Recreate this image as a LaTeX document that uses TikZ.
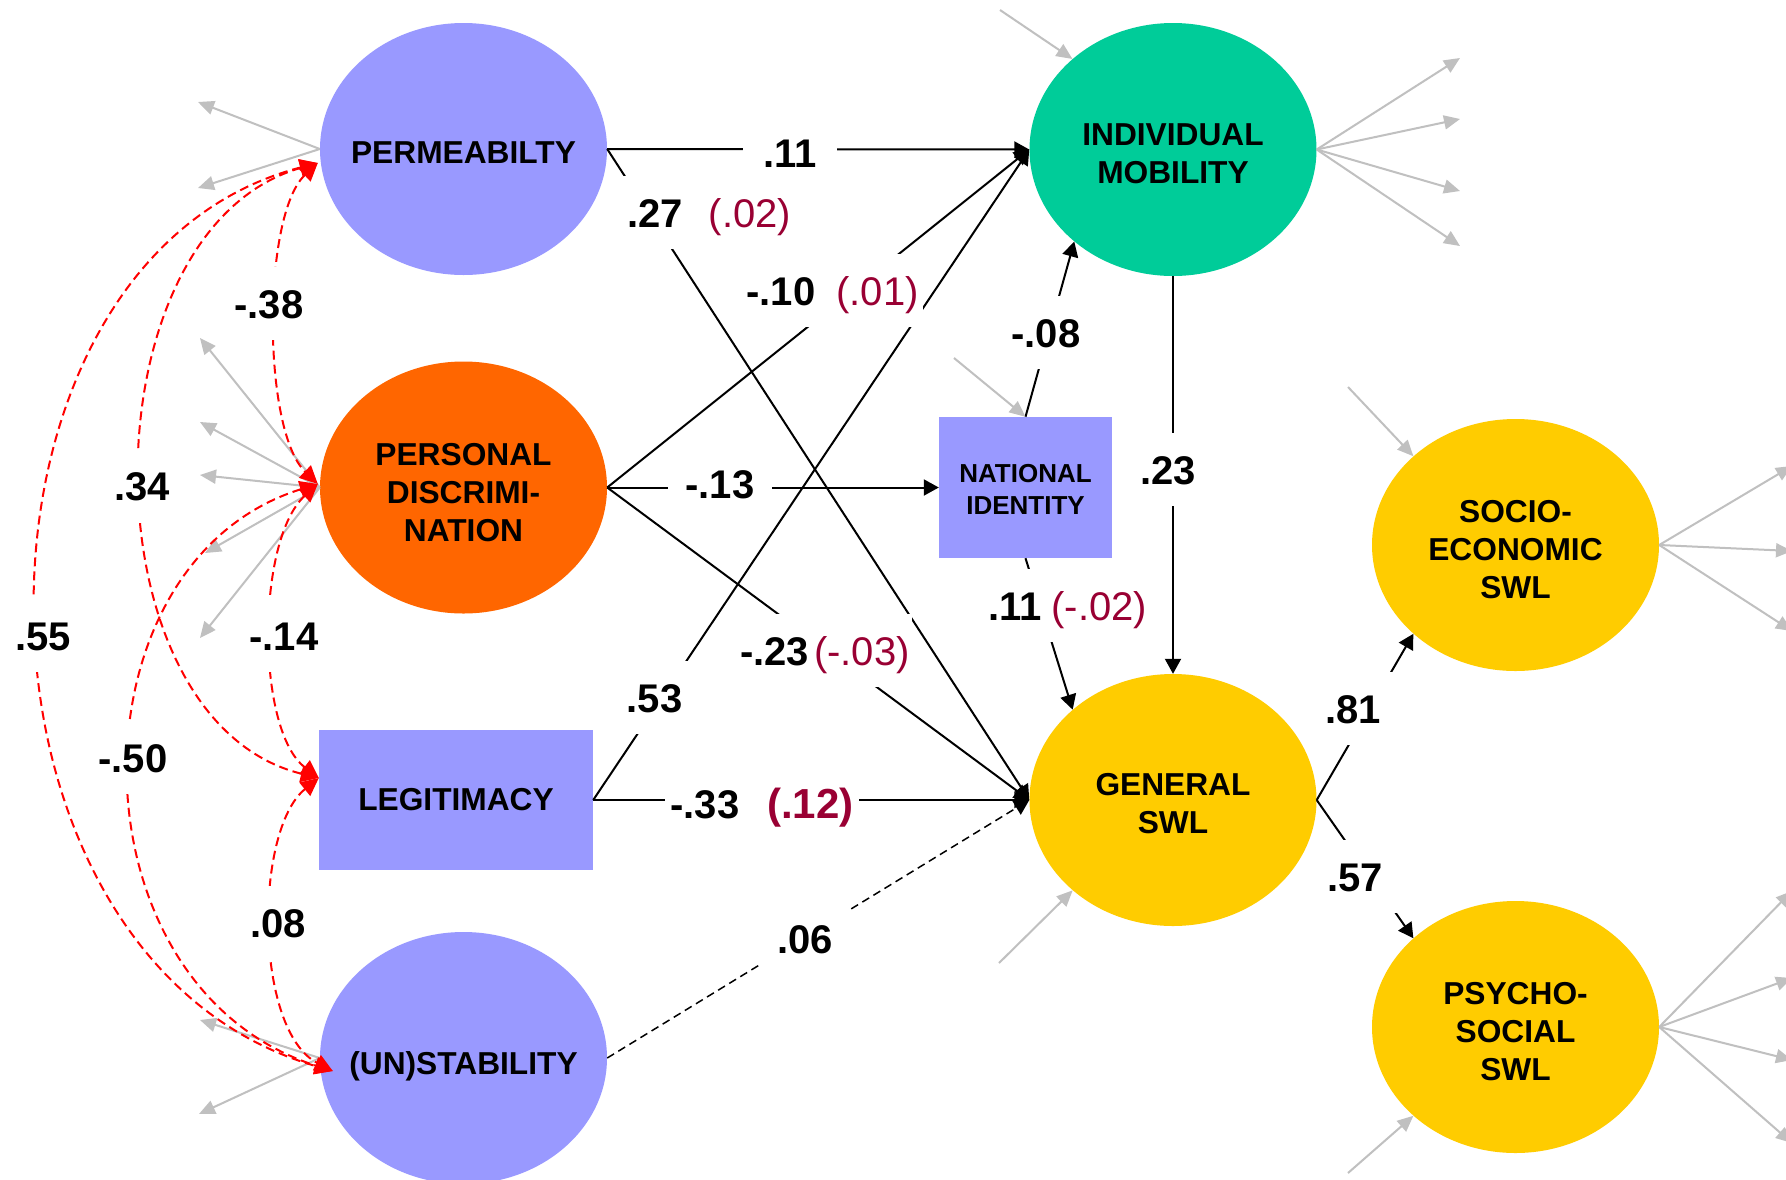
\documentclass[tikz,border=0pt]{standalone}
\usepackage{fontspec}
\setmainfont{Liberation Sans}
\usetikzlibrary{arrows.meta,calc,shapes.geometric}
\definecolor{lav}{HTML}{9999FF}
\definecolor{org}{HTML}{FF6600}
\definecolor{teal2}{HTML}{00CC99}
\definecolor{gold}{HTML}{FFCC00}
\definecolor{dkred}{HTML}{990033}
\definecolor{gry}{HTML}{C0C0C0}
\definecolor{rd}{HTML}{FF0000}
\begin{document}
\begin{tikzpicture}[x=1pt,y=-1pt,
  latent/.style={ellipse, minimum width=287pt, minimum height=252pt, inner sep=0pt, draw=none},
  obsbox/.style={rectangle, inner sep=0pt, draw=none},
  ntext/.style={font=\fontsize{31.7}{38}\selectfont\bfseries, align=center, inner sep=0pt},
  causal/.style={line width=2pt, -{Triangle[length=15pt,width=16pt]}},
  grayarr/.style={color=gry, line width=2pt, -{Triangle[length=16pt,width=14pt]}},
  cov/.style={color=rd, line width=2pt, dash pattern=on 9pt off 5pt, {Triangle[length=18pt,width=17pt]}-{Triangle[length=18pt,width=17pt]}},
  lab/.style={font=\fontsize{40}{48}\selectfont\bfseries, fill=white, anchor=base, text height=29pt, text depth=0pt, inner xsep=14pt, inner ysep=22pt},
]
\fill[white] (0,0) rectangle (1786,1179);
\clip (0,0) rectangle (1786,1179);

% ---------- nodes ----------
\node[latent, fill=lav] (PERM) at (463.5,149) {};
\node[latent, fill=org] (PERS) at (463.5,487.5) {};
\node[obsbox, fill=lav, minimum width=274pt, minimum height=140pt] (LEGIT) at (456,800) {};
\node[latent, fill=lav] (UNST) at (463.5,1058) {};
\node[latent, fill=teal2, minimum height=253pt] (INDM) at (1173,149.5) {};
\node[obsbox, fill=lav, minimum width=173pt, minimum height=141pt] (NATID) at (1025.5,487.5) {};
\node[latent, fill=gold] (GSWL) at (1173,800) {};
\node[latent, fill=gold] (SOCIO) at (1515.5,545) {};
\node[latent, fill=gold] (PSYCH) at (1515.5,1027) {};

% ---------- structural paths ----------
\draw[causal] (PERM.east) -- (INDM.west);
\draw[causal] (PERM.east) -- (GSWL.west);
\draw[causal] (PERS.east) -- (INDM.west);
\draw[causal] (PERS.east) -- (NATID.west);
\draw[causal] (PERS.east) -- (GSWL.west);
\draw[causal] (LEGIT.east) -- (INDM.west);
\draw[causal] (LEGIT.east) -- (GSWL.west);
\draw[causal, line width=1.5pt, dash pattern=on 8pt off 5pt] (UNST.east) -- (GSWL.west);
\draw[causal] (NATID.north) -- (INDM.223);
\draw[causal] (NATID.south) -- (GSWL.138);
\draw[causal] (INDM.south) -- (GSWL.north);
\draw[causal] (GSWL.east) -- (SOCIO.221);
\draw[causal] (GSWL.east) -- (PSYCH.139);

% ---------- gray indicator / error arrows ----------
\coordinate (gP1) at (198,102);
\coordinate (gP2) at (198,188);
\draw[grayarr] (PERM.west) -- (gP1);
\draw[grayarr] (PERM.west) -- (gP2);
\coordinate (gD1) at (200,338);
\coordinate (gD2) at (200,422);
\coordinate (gD3) at (200,475);
\coordinate (gD4) at (205,553);
\coordinate (gD5) at (200,638);
\foreach \t in {gD1,gD2,gD3,gD4,gD5} \draw[grayarr] (PERS.west) -- (\t);
\coordinate (gU1) at (200,1020);
\coordinate (gU2) at (199,1114);
\draw[grayarr] (UNST.west) -- (gU1);
\draw[grayarr] (UNST.west) -- (gU2);
\coordinate (gI1) at (1460,58);
\coordinate (gI2) at (1460,119);
\coordinate (gI3) at (1460,191);
\coordinate (gI4) at (1460,246);
\foreach \t in {gI1,gI2,gI3,gI4} \draw[grayarr] (INDM.east) -- (\t);
\coordinate (gS1) at (1792,466);
\coordinate (gS2) at (1792,551);
\coordinate (gS3) at (1792,631);
\foreach \t in {gS1,gS2,gS3} \draw[grayarr] (SOCIO.east) -- (\t);
\coordinate (gY1) at (1792,891);
\coordinate (gY2) at (1792,978);
\coordinate (gY3) at (1792,1060);
\coordinate (gY4) at (1792,1143);
\foreach \t in {gY1,gY2,gY3,gY4} \draw[grayarr] (PSYCH.east) -- (\t);
% incoming errors
\coordinate (eI) at (1000,10);
\draw[grayarr] (eI) -- (INDM.138);
\coordinate (eN) at (954,358);
\draw[grayarr] (eN) -- (NATID.north);
\coordinate (eG) at (999,963);
\draw[grayarr] (eG) -- (GSWL.222);
\coordinate (eS) at (1348,387);
\draw[grayarr] (eS) -- (SOCIO.139);
\coordinate (eY) at (1348,1173);
\draw[grayarr] (eY) -- (PSYCH.221);

% ---------- covariances (red dashed) ----------
\coordinate (rP) at ($(PERM.west)+(-2,14)$);
\coordinate (rD) at ($(PERS.west)+(-2,-3.5)$);
\coordinate (rL) at ($(LEGIT.west)+(0,-22)$);
\coordinate (rU) at ($(UNST.west)+(13,13)$);
\draw[cov] (rP) .. controls (262,215) and (262,430) .. (rD);
\draw[cov] (rP) .. controls (83,230) and (83,720) .. (rL);
\draw[cov] (rP) .. controls (-58,260) and (-58,958) .. (rU);
\draw[cov] (rD) .. controls (256,540) and (256,730) .. (rL);
\draw[cov] (rD) .. controls (66,562) and (66,986) .. (rU);
\draw[cov] (rL) .. controls (254,830) and (254,1030) .. (rU);

% ---------- path labels ----------
\node[lab, inner xsep=20pt] (l1) at (790,167) {.11};
\node[lab] (l2) at (655,227) {.27};
\node[lab, inner xsep=4pt] (l2r) at (750,227) {\mdseries\color{dkred}(.02)};
\node[lab, inner xsep=4pt] (l3) at (832.5,305) {-.10\hspace{21pt}{\mdseries\color{dkred}(.01)}};
\node[lab, inner xsep=18pt] (l4) at (720,498) {-.13};
\node[lab, inner xsep=2pt] (l5) at (825,665) {-.23\hspace{5pt}{\mdseries\color{dkred}(-.03)}};
\node[lab] (l6) at (654.5,712) {.53};
\node[lab, inner xsep=5pt] (l7) at (762,818) {-.33\hspace{28pt}{\fontsize{42}{48}\selectfont\color{dkred}(.12)}};
\node[lab, inner xsep=16pt] (l8) at (805,953) {.06};
\node[lab] (l9) at (1046,347) {-.08};
\node[lab, inner xsep=6pt] (l10) at (1067.5,620) {.11\hspace{10pt}{\mdseries\color{dkred}(-.02)}};
\node[lab] (l11) at (1168,484) {.23};
\node[lab] (l12) at (1353,723) {.81};
\node[lab] (l13) at (1355,891) {.57};
% covariance labels
\node[lab] (c1) at (269,318) {-.38};
\node[lab] (c2) at (142,500) {.34};
\node[lab] (c3) at (43,650) {.55};
\node[lab] (c4) at (284,650) {-.14};
\node[lab] (c5) at (133,772) {-.50};
\node[lab] (c6) at (278,937) {.08};

% ---------- node texts ----------
\node[ntext] (PERMt) at ($(PERM)+(0,4)$) {PERMEABILTY};
\node[ntext] (PERSt) at ($(PERS)+(0,5)$) {PERSONAL\\DISCRIMI-\\NATION};
\node[ntext] (LEGITt) at (LEGIT) {LEGITIMACY};
\node[ntext] (UNSTt) at ($(UNST)+(0,8)$) {(UN)STABILITY};
\node[ntext] (INDMt) at ($(INDM)+(0,4)$) {INDIVIDUAL\\MOBILITY};
\node[ntext, font=\fontsize{26}{32}\selectfont\bfseries] (NATIDt) at ($(NATID)+(0,1.5)$) {NATIONAL\\IDENTITY};
\node[ntext] (GSWLt) at ($(GSWL)+(0,4)$) {GENERAL\\SWL};
\node[ntext] (SOCIOt) at ($(SOCIO)+(0,5)$) {SOCIO-\\ECONOMIC\\SWL};
\node[ntext] (PSYCHt) at ($(PSYCH)+(0,5)$) {PSYCHO-\\SOCIAL\\SWL};
\end{tikzpicture}
\end{document}
